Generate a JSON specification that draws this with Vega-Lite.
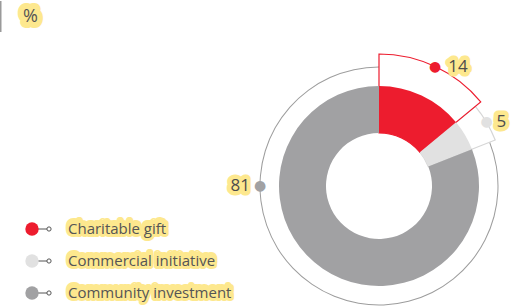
{
  "$schema": "https://vega.github.io/schema/vega-lite/v6.json",
  "padding": 0,
  "bounds": "flush",
  "spacing": 0,
  "config": {"view": {"stroke": null}, "font": "Open Sans", "concat": {"spacing": 0}},
  "datasets": {
    "shares": [
      {"category": "Charitable gift", "value": 14},
      {"category": "Commercial initiative", "value": 5},
      {"category": "Community investment", "value": 81}
    ]
  },
  "vconcat": [
    {
      "width": 518,
      "height": 62,
      "data": {"values": [{"label": "%"}]},
      "layer": [
        {"mark": {"type": "rule", "stroke": "#9a9a9a", "strokeWidth": 1.5}, "encoding": {"x": {"value": 0.75}, "y": {"value": 0}, "y2": {"value": 31}}},
        {"mark": {"type": "text", "font": "Open Sans", "fontSize": 18, "fill": "#fde88e", "stroke": "#fde88e", "strokeWidth": 12, "strokeJoin": "round", "baseline": "middle", "align": "center"}, "encoding": {"x": {"value": 30.5}, "y": {"value": 16}, "text": {"field": "label"}}},
        {"mark": {"type": "text", "font": "Open Sans", "fontSize": 18, "fill": "#555555", "baseline": "middle", "align": "center"}, "encoding": {"x": {"value": 30.5}, "y": {"value": 16}, "text": {"field": "label"}}}
      ]
    },
    {
      "spacing": 0,
      "bounds": "flush",
      "hconcat": [
        {
          "width": 256,
          "height": 246,
          "data": {"name": "shares"},
          "encoding": {
            "y": {"field": "category", "type": "nominal", "axis": null,
                  "scale": {"type": "point", "domain": ["Charitable gift", "Commercial initiative", "Community investment"], "range": [166, 230], "padding": 0}}
          },
          "layer": [
            {"mark": {"type": "rule", "stroke": "#555555", "strokeWidth": 1}, "encoding": {"x": {"value": 32}, "x2": {"value": 49}}},
            {"mark": {"type": "point", "shape": "circle", "size": 18, "filled": false, "fill": "white", "stroke": "#555555", "strokeWidth": 1, "opacity": 1}, "encoding": {"x": {"value": 49}}},
            {"mark": {"type": "circle", "size": 180, "opacity": 1}, "encoding": {"x": {"value": 32},
              "color": {"field": "category", "type": "nominal", "legend": null,
                        "scale": {"domain": ["Charitable gift", "Commercial initiative", "Community investment"], "range": ["#ed1c2e", "#e1e1e1", "#a1a1a3"]}}}},
            {"mark": {"type": "text", "font": "Open Sans", "fontSize": 15, "fill": "#fde88e", "stroke": "#fde88e", "strokeWidth": 6, "strokeJoin": "round", "baseline": "middle", "align": "left", "dy": -3}, "encoding": {"x": {"value": 68}, "text": {"field": "category"}}},
            {"mark": {"type": "text", "font": "Open Sans", "fontSize": 15, "fill": "#fde88e", "stroke": "#fde88e", "strokeWidth": 6, "strokeJoin": "round", "baseline": "middle", "align": "left"}, "encoding": {"x": {"value": 68}, "text": {"field": "category"}}},
            {"mark": {"type": "text", "font": "Open Sans", "fontSize": 15, "fill": "#555555", "baseline": "middle", "align": "left"}, "encoding": {"x": {"value": 68}, "text": {"field": "category"}}}
          ]
        },
        {
          "width": 246,
          "height": 246,
          "data": {"name": "shares"},
          "encoding": {
            "theta": {"field": "value", "type": "quantitative", "stack": true},
            "order": {"field": "category", "sort": "ascending"}
          },
          "layer": [
            {"mark": {"type": "arc", "radius": 119.5, "radius2": 118.5, "fill": "#9d9d9d"}},
            {"mark": {"type": "arc", "radius": 125, "radius2": 53, "fill": "white", "stroke": "#d6d6d6", "strokeWidth": 1.2},
             "encoding": {"opacity": {"condition": {"test": "datum.category === 'Commercial initiative'", "value": 1}, "value": 0}}},
            {"mark": {"type": "arc", "radius": 132, "radius2": 53, "fill": "white", "stroke": "#ed1c2e", "strokeWidth": 1.2},
             "encoding": {"opacity": {"condition": {"test": "datum.category === 'Charitable gift'", "value": 1}, "value": 0}}},
            {"mark": {"type": "arc", "radius": 100, "radius2": 53},
             "encoding": {"color": {"field": "category", "type": "nominal", "legend": null,
                        "scale": {"domain": ["Charitable gift", "Commercial initiative", "Community investment"], "range": ["#ed1c2e", "#e1e1e1", "#a1a1a3"]}}}},
            {"mark": {"type": "text", "font": "DejaVu Sans", "fontSize": 14, "baseline": "middle", "align": "center", "radius": 132},
             "encoding": {"text": {"value": "●"}, "color": {"field": "category", "type": "nominal", "legend": null},
                          "opacity": {"condition": {"test": "datum.category === 'Charitable gift'", "value": 1}, "value": 0}}},
            {"mark": {"type": "text", "font": "DejaVu Sans", "fontSize": 14, "baseline": "middle", "align": "center", "radius": 125},
             "encoding": {"text": {"value": "●"}, "color": {"field": "category", "type": "nominal", "legend": null},
                          "opacity": {"condition": {"test": "datum.category === 'Commercial initiative'", "value": 1}, "value": 0}}},
            {"transform": [{"filter": "datum.category === 'Community investment'"}],
             "mark": {"type": "text", "font": "DejaVu Sans", "fontSize": 14, "baseline": "middle", "align": "center", "radius": 119},
             "encoding": {"theta": {"value": 4.712389}, "text": {"value": "●"}, "color": {"field": "category", "type": "nominal", "legend": null}}},
            {"mark": {"type": "text", "font": "Open Sans", "fontSize": 17, "fill": "#fde88e", "stroke": "#fde88e", "strokeWidth": 9, "strokeJoin": "round", "baseline": "middle", "align": "left", "radius": 132, "dx": 13},
             "encoding": {"text": {"field": "value"}, "opacity": {"condition": {"test": "datum.category === 'Charitable gift'", "value": 1}, "value": 0}}},
            {"mark": {"type": "text", "font": "Open Sans", "fontSize": 17, "fill": "#4d4d4d", "baseline": "middle", "align": "left", "radius": 132, "dx": 13},
             "encoding": {"text": {"field": "value"}, "opacity": {"condition": {"test": "datum.category === 'Charitable gift'", "value": 1}, "value": 0}}},
            {"mark": {"type": "text", "font": "Open Sans", "fontSize": 17, "fill": "#fde88e", "stroke": "#fde88e", "strokeWidth": 9, "strokeJoin": "round", "baseline": "middle", "align": "left", "radius": 125, "dx": 10},
             "encoding": {"text": {"field": "value"}, "opacity": {"condition": {"test": "datum.category === 'Commercial initiative'", "value": 1}, "value": 0}}},
            {"mark": {"type": "text", "font": "Open Sans", "fontSize": 17, "fill": "#4d4d4d", "baseline": "middle", "align": "left", "radius": 125, "dx": 10},
             "encoding": {"text": {"field": "value"}, "opacity": {"condition": {"test": "datum.category === 'Commercial initiative'", "value": 1}, "value": 0}}},
            {"transform": [{"filter": "datum.category === 'Community investment'"}],
             "mark": {"type": "text", "font": "Open Sans", "fontSize": 17, "fill": "#fde88e", "stroke": "#fde88e", "strokeWidth": 9, "strokeJoin": "round", "baseline": "middle", "align": "right", "radius": 119, "dx": -10},
             "encoding": {"theta": {"value": 4.712389}, "text": {"field": "value"}}},
            {"transform": [{"filter": "datum.category === 'Community investment'"}],
             "mark": {"type": "text", "font": "Open Sans", "fontSize": 17, "fill": "#4d4d4d", "baseline": "middle", "align": "right", "radius": 119, "dx": -10},
             "encoding": {"theta": {"value": 4.712389}, "text": {"field": "value"}}}
          ]
        }
      ]
    }
  ]
}
